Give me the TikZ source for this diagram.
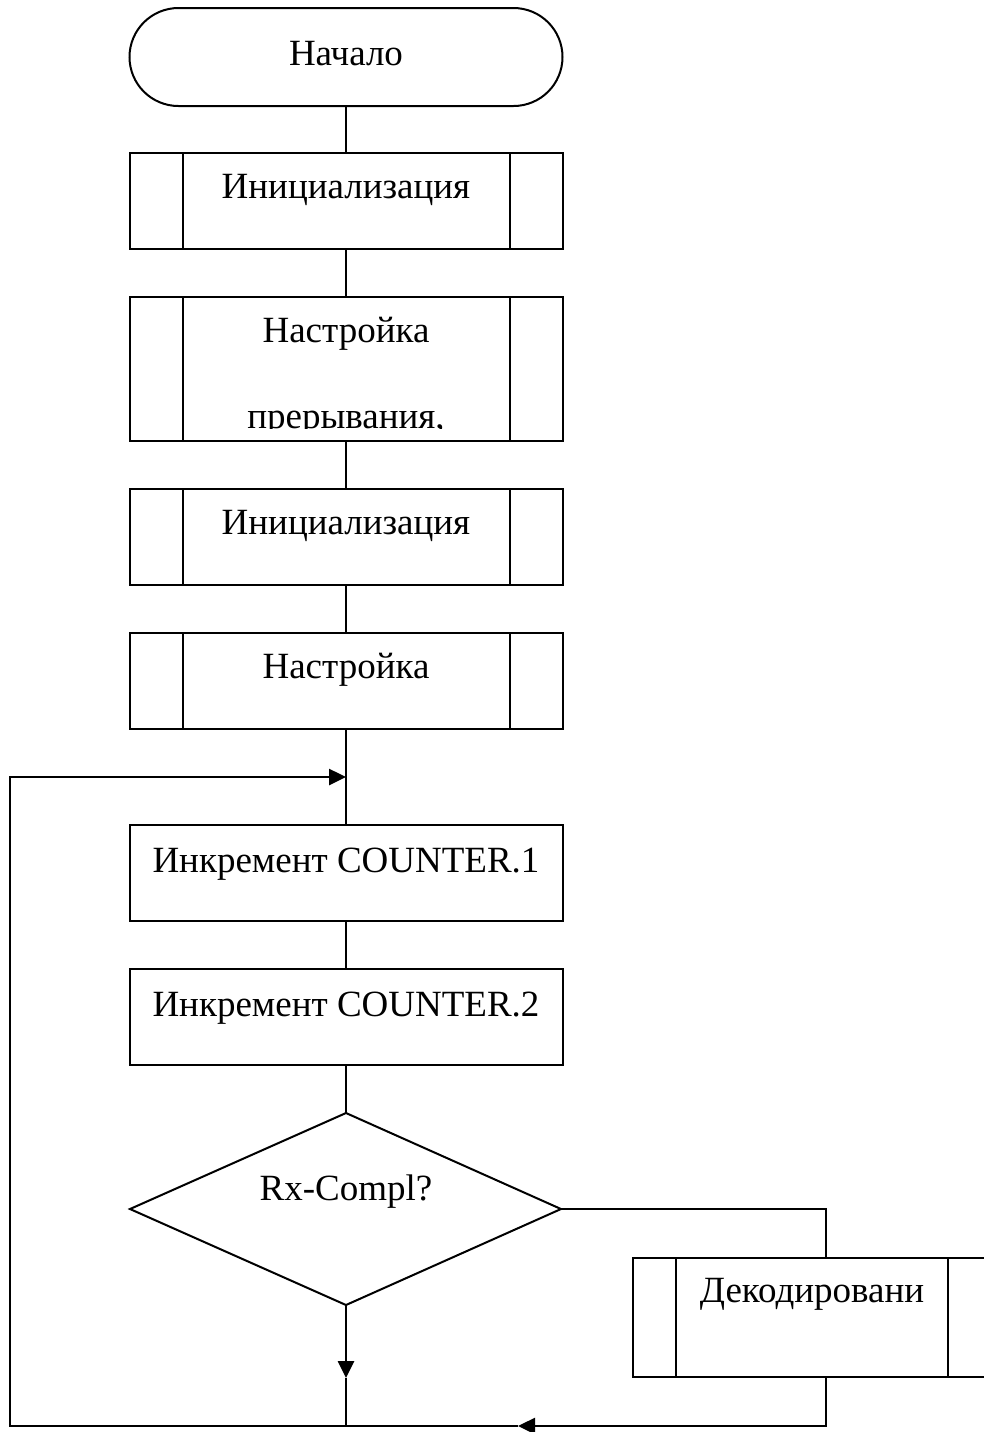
\documentclass[tikz,border=0pt]{standalone}
\usepackage{fontspec}
\setmainfont{Liberation Serif}
\usetikzlibrary{arrows.meta}

\tikzset{
  blk/.style={draw, line width=1pt, minimum width=216.5pt, minimum height=48pt, inner sep=0pt},
  sub/.style={blk, path picture={
      \draw[line width=1pt] ([xshift=#1]path picture bounding box.north west) -- ([xshift=#1]path picture bounding box.south west)
        ([xshift=-#1]path picture bounding box.north east) -- ([xshift=-#1]path picture bounding box.south east);}},
  txt/.style={anchor=base, inner sep=0pt, font=\fontsize{18.5pt}{22pt}\selectfont},
  link/.style={line width=1pt},
  loopline/.style={line width=1.3pt},
  tip/.style={-{Triangle[length=8.5pt,width=8pt]}}
}

\begin{document}
\begin{tikzpicture}[x=0.5pt,y=-0.5pt]
\clip (0,0) rectangle (984,1432);

% blocks
\node[blk, rounded corners=24.5pt, minimum height=49pt] (start) at (346,57) {};
\node[txt] (startt) at (346,65) {Начало};
\node[sub=26.5pt] (init1) at (346,200.5) {};
\node[txt] (init1t) at (346,198) {Инициализация};
\node[sub=26.5pt, minimum height=72pt] (irq) at (346,369) {};
\begin{scope}
\clip (130,297) rectangle (562,428.5);
\node[txt] (irqa) at (346,342) {Настройка};
\node[txt] (irqb) at (346,428) {прерывания,};
\end{scope}
\node[sub=26.5pt] (init2) at (346,537) {};
\node[txt] (init2t) at (346,534) {Инициализация};
\node[sub=26.5pt] (setup) at (346,681) {};
\node[txt] (setupt) at (346,678) {Настройка};
\node[blk] (inc1) at (346,873) {};
\node[txt] (inc1t) at (346,872) {Инкремент COUNTER.1};
\node[blk] (inc2) at (346,1017) {};
\node[txt] (inc2t) at (346,1016) {Инкремент COUNTER.2};
\draw[link] (346,1113) coordinate (ctop) -- (561,1209) coordinate (cright)
  -- (346,1305) coordinate (cbot) -- (130,1209) coordinate (cleft) -- cycle;
\node[txt] (condt) at (346,1200) {Rx-Compl?};
\node[sub=21.5pt, minimum width=179pt, minimum height=59.5pt] (decode) at (812,1317.5) {};
\node[txt] (decodet) at (812,1302) {Декодировани};

\coordinate (join) at (346,777);
\coordinate (mergeup) at (346,1378);
\coordinate (merge) at (346,1426);
\coordinate (mid) at (518,1426);
\coordinate (corner) at (10,1426);

% connectors
\draw[link] (start) -- (init1);
\draw[link] (init1) -- (irq);
\draw[link] (irq) -- (init2);
\draw[link] (init2) -- (setup);
\draw[link] (setup) -- (inc1);
\draw[link] (inc1) -- (inc2);
\draw[link] (inc2) -- (ctop);
\draw[link] (cright) -| ([xshift=7pt]decode.north);
\draw[loopline,tip] (cbot) -- (mergeup);
\draw[link] (mergeup) -- (merge);
\draw[loopline,tip] ([xshift=7pt]decode.south) |- (mid);
\draw[loopline,tip] (mid) -- (corner) |- (join);
\end{tikzpicture}
\end{document}
